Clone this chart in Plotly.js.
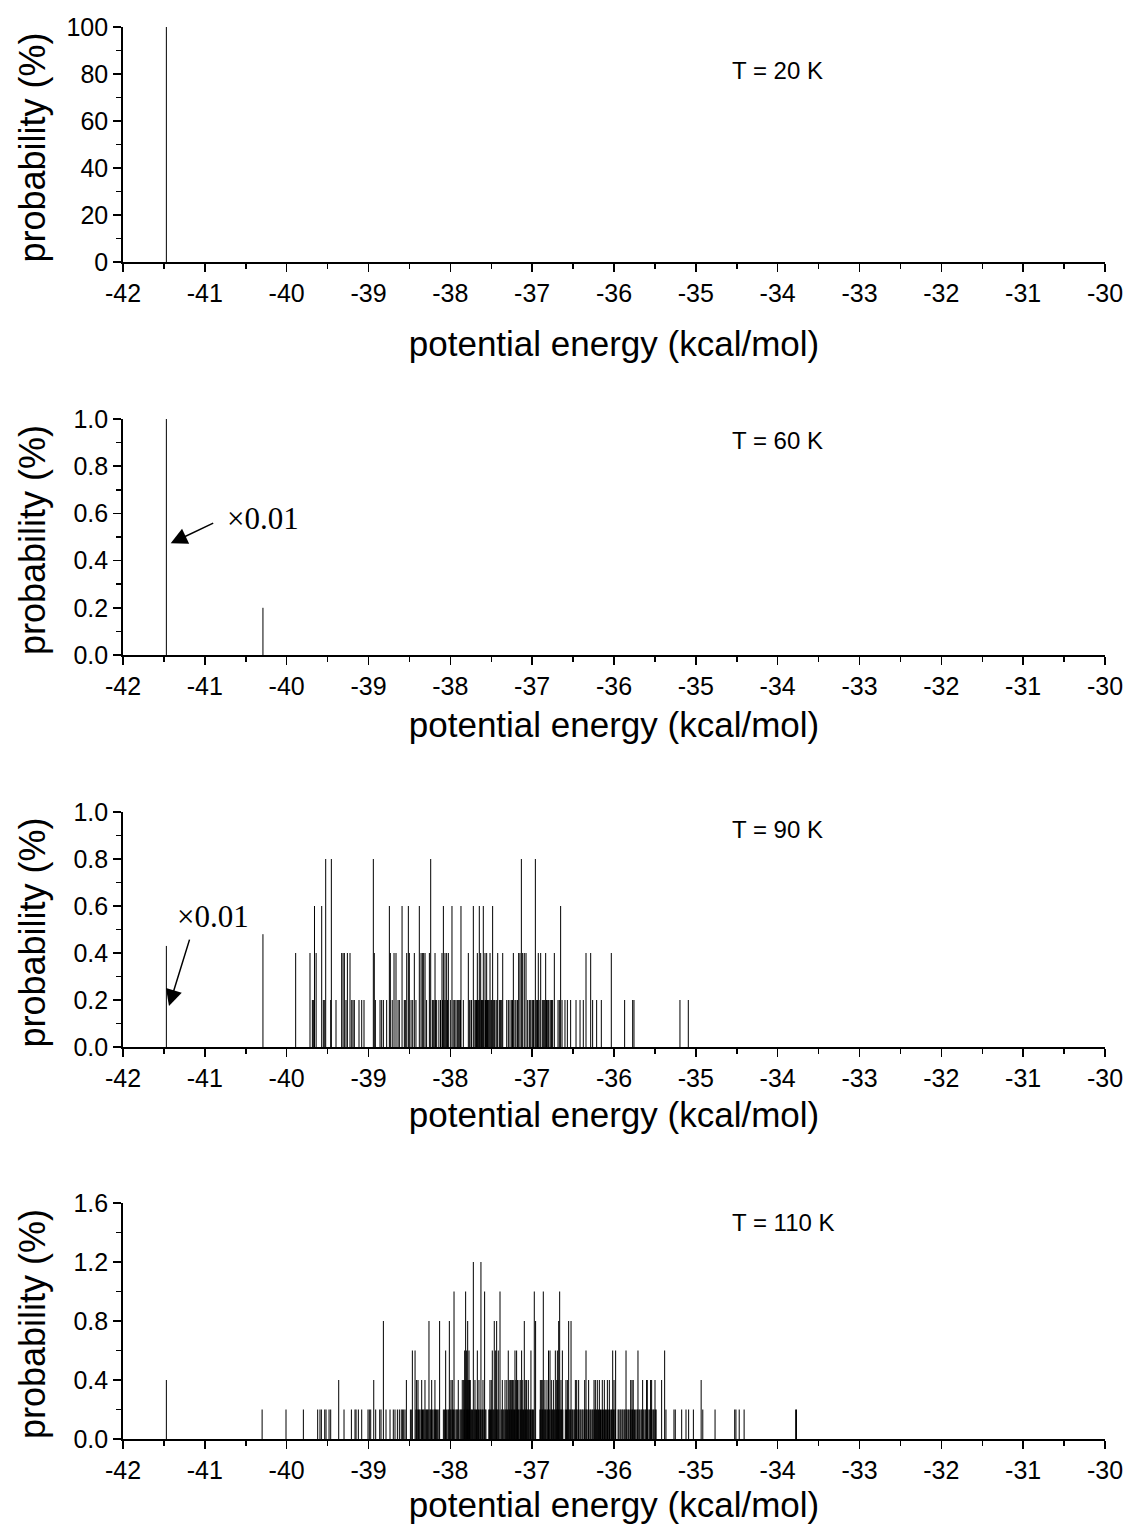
<!DOCTYPE html>
<html><head><meta charset="utf-8">
<script src="https://cdn.plot.ly/plotly-3.0.1.min.js"></script>
<style>html,body{margin:0;padding:0;background:#fff;}</style>
</head><body>
<div id="chart" style="width:1125px;height:1533px;"></div>
<script>
// ---------- data (energies in kcal/mol, probability in %) ----------
const energies20 = [-41.47];
const prob20 = [100];

const energies60 = [-41.47, -40.29];
const prob60 = [1.0, 0.2];

// T = 90 K : the two low-energy sticks are shown scaled by x0.01
const energies90Scaled = [-41.47, -40.29];
const prob90Scaled = [0.43, 0.48];
const e90_p02 = [-39.686, -39.674, -39.552, -39.535, -39.462, -39.397, -39.275, -39.205, -39.189, -39.173,
  -39.116, -39.083, -39.055, -38.916, -38.859, -38.839, -38.818, -38.778, -38.71, -38.639, -38.623, -38.562,
  -38.55, -38.48, -38.46, -38.42, -38.29, -38.22, -38.21, -38.199, -38.18, -38.167, -38.14, -38.12, -38.095,
  -38.075, -38.055, -38.035, -38.0, -37.965, -37.947, -37.931, -37.914, -37.898, -37.885, -37.875, -37.841,
  -37.764, -37.747, -37.74, -37.70, -37.69, -37.68, -37.664, -37.658, -37.64, -37.62, -37.613, -37.605,
  -37.59, -37.57, -37.56, -37.55, -37.545, -37.536, -37.525, -37.505, -37.495, -37.47, -37.462, -37.442,
  -37.43, -37.401, -37.39, -37.381, -37.37, -37.311, -37.291, -37.271, -37.25, -37.24, -37.21, -37.198,
  -37.18, -37.055, -37.035, -37.025, -37.014, -36.994, -36.985, -36.978, -36.945, -36.935, -36.915, -36.876,
  -36.865, -36.855, -36.845, -36.825, -36.81, -36.802, -36.782, -36.77, -36.762, -36.75, -36.684, -36.668,
  -36.635, -36.599, -36.57, -36.53, -36.464, -36.415, -36.375, -36.261, -36.212, -36.155, -35.87, -35.772,
  -35.756, -35.194, -35.092];
const e90_p04 = [-39.89, -39.715, -39.64, -39.328, -39.311, -39.295, -39.258, -39.226, -38.929, -38.733,
  -38.688, -38.664, -38.533, -38.501, -38.44, -38.358, -38.342, -38.326, -38.309, -38.256, -38.187, -38.102,
  -38.065, -38.045, -38.024, -37.78, -37.67, -37.629, -37.576, -37.556, -37.515, -37.421, -37.36, -37.23,
  -37.165, -37.149, -37.116, -37.096, -37.075, -36.925, -36.896, -36.835, -36.729, -36.342, -36.285, -36.033];
const e90_p06 = [-39.66, -39.572, -38.745, -38.59, -38.513, -38.379, -38.085, -37.98, -37.87, -37.719,
  -37.646, -37.597, -37.483, -36.652];
const e90_p08 = [-39.523, -39.454, -38.941, -38.24, -37.132, -36.961];

// T = 110 K
const e110_p02 = [-40.30, -40.008, -39.796, -39.621, -39.593, -39.576, -39.535, -39.519, -39.482, -39.462,
  -39.299, -39.209, -39.165, -39.152, -39.124, -39.083, -39.006, -38.99, -38.973, -38.912, -38.863, -38.847,
  -38.786, -38.737, -38.697, -38.676, -38.647, -38.623, -38.6, -38.586, -38.57, -38.554, -38.488, -38.472,
  -38.42, -38.405, -38.39, -38.38, -38.37, -38.355, -38.34, -38.33, -38.32, -38.30, -38.29, -38.28, -38.27,
  -38.25, -38.24, -38.23, -38.215, -38.20, -38.19, -38.18, -38.17, -38.155, -38.14,
  -38.085, -38.07, -38.06, -38.045, -38.03, -38.02, -38.005, -37.995, -37.98, -37.97, -37.96, -37.945, -37.93,
  -37.92, -37.91, -37.895, -37.88, -37.87, -37.86, -37.845, -37.83, -37.82, -37.80, -37.79, -37.78, -37.765,
  -37.75, -37.74, -37.73, -37.71, -37.70, -37.69, -37.68, -37.665, -37.655, -37.64, -37.63, -37.615, -37.605,
  -37.59, -37.575, -37.565, -37.53, -37.52, -37.51, -37.495, -37.48, -37.47, -37.455, -37.44, -37.43,
  -37.42, -37.405, -37.38, -37.37, -37.355, -37.345, -37.33, -37.32, -37.31, -37.30, -37.285, -37.275,
  -37.26, -37.25, -37.235, -37.225, -37.215, -37.20, -37.185, -37.175, -37.165, -37.15, -37.14, -37.125,
  -37.115, -37.105, -37.09, -37.08, -37.065, -37.055, -37.04, -37.03, -37.02, -37.005, -36.995, -36.985,
  -36.905, -36.895, -36.88, -36.87, -36.855, -36.845, -36.835, -36.82, -36.81, -36.795, -36.785, -36.77,
  -36.76, -36.75, -36.735, -36.725, -36.71, -36.70, -36.685, -36.675, -36.66, -36.65, -36.64, -36.625,
  -36.595, -36.58, -36.565, -36.55, -36.54, -36.53, -36.515, -36.505, -36.49, -36.48, -36.465, -36.455,
  -36.44, -36.43, -36.415, -36.405, -36.39, -36.38, -36.365, -36.355, -36.34, -36.33, -36.315, -36.305,
  -36.29, -36.28, -36.265, -36.255, -36.24, -36.23, -36.215, -36.205, -36.19, -36.18, -36.165, -36.155,
  -36.14, -36.13, -36.115, -36.105, -36.09, -36.08, -36.065, -36.055, -36.04, -36.03, -36.015, -36.005,
  -35.99, -35.98, -35.95, -35.94, -35.925, -35.915, -35.90, -35.89, -35.875, -35.865, -35.85, -35.84,
  -35.825, -35.815, -35.80, -35.79, -35.775, -35.765, -35.75, -35.735, -35.72, -35.71, -35.695, -35.685,
  -35.67, -35.66, -35.645, -35.635, -35.62, -35.61, -35.595, -35.585, -35.57, -35.56, -35.545, -35.535,
  -35.52, -35.51, -35.495, -35.485, -35.365, -35.267, -35.251, -35.173, -35.12, -35.088, -35.03, -34.915,
  -34.765, -34.525, -34.51, -34.47, -34.41, -33.78, -33.77];
const e110_p04 = [-41.47, -39.364, -38.936, -38.537, -38.412, -38.395, -38.35, -38.31, -38.228, -38.188,
  -37.992, -37.976, -37.903, -37.854, -37.837, -37.82, -37.795, -37.78, -37.765, -37.756, -37.699, -37.65,
  -37.601, -37.516, -37.5, -37.365, -37.332, -37.31, -37.28, -37.263, -37.25, -37.239, -37.225, -37.2, -37.18,
  -37.161, -37.14, -37.115, -37.085, -37.068, -37.047, -36.9, -36.884, -36.87, -36.844, -36.819, -36.766,
  -36.741, -36.7, -36.685, -36.648, -36.587, -36.57, -36.472, -36.456, -36.432, -36.358, -36.31, -36.244,
  -36.228, -36.204, -36.179, -36.143, -36.118, -36.081, -36.057, -36.0, -35.796, -35.78, -35.765, -35.65,
  -35.602, -35.593, -35.553, -35.54, -35.499, -35.418, -34.935];
const e110_p06 = [-38.464, -38.431, -38.057, -37.825, -37.801, -37.772, -37.67, -37.487, -37.446, -37.414,
  -37.292, -37.21, -37.19, -37.129, -37.015, -36.8, -36.782, -36.717, -36.692, -36.631, -36.342, -36.016,
  -35.98, -35.853, -35.707, -35.381];
const e110_p08 = [-38.818, -38.261, -38.131, -38.012, -37.788, -37.463, -37.434, -37.096, -36.958, -36.676,
  -36.554, -36.525];
const e110_p10 = [-37.955, -37.813, -37.581, -37.393, -36.974, -36.864, -36.664];
const e110_p12 = [-37.719, -37.626];

const xTickVals = [-42, -41, -40, -39, -38, -37, -36, -35, -34, -33, -32, -31, -30];
const xTickText = ['-42', '-41', '-40', '-39', '-38', '-37', '-36', '-35', '-34', '-33', '-32', '-31', '-30'];
const yTickVals1 = [0, 20, 40, 60, 80, 100];
const yTickText1 = ['0', '20', '40', '60', '80', '100'];
const yTickVals2 = [0, 0.2, 0.4, 0.6, 0.8, 1.0];
const yTickText2 = ['0.0', '0.2', '0.4', '0.6', '0.8', '1.0'];
const yTickVals4 = [0, 0.4, 0.8, 1.2, 1.6];
const yTickText4 = ['0.0', '0.4', '0.8', '1.2', '1.6'];
const panelLabels = ['T = 20 K', 'T = 60 K', 'T = 90 K', 'T = 110 K'];
const xTitle = 'potential energy (kcal/mol)';
const yTitle = 'probability (%)';

// ---------- build stick traces ----------
function addSticks(xs, ys, energies, probs) {
  for (let i = 0; i < energies.length; i++) {
    xs.push(energies[i], energies[i], null);
    ys.push(0, probs[i], null);
  }
}
function addLevel(xs, ys, energies, level) {
  for (const e of energies) { xs.push(e, e, null); ys.push(0, level, null); }
}
function stickTrace(xs, ys, k) {
  return {type: 'scatter', mode: 'lines', x: xs, y: ys, xaxis: 'x' + (k === 1 ? '' : k),
    yaxis: 'y' + (k === 1 ? '' : k), line: {color: '#000', width: 1}, hoverinfo: 'skip', connectgaps: false};
}
const t1x = [], t1y = []; addSticks(t1x, t1y, energies20, prob20);
const t2x = [], t2y = []; addSticks(t2x, t2y, energies60, prob60);
const t3x = [], t3y = [];
addSticks(t3x, t3y, energies90Scaled, prob90Scaled);
addLevel(t3x, t3y, e90_p02, 0.2); addLevel(t3x, t3y, e90_p04, 0.4);
addLevel(t3x, t3y, e90_p06, 0.6); addLevel(t3x, t3y, e90_p08, 0.8);
const t4x = [], t4y = [];
addLevel(t4x, t4y, e110_p02, 0.2); addLevel(t4x, t4y, e110_p04, 0.4);
addLevel(t4x, t4y, e110_p06, 0.6); addLevel(t4x, t4y, e110_p08, 0.8);
addLevel(t4x, t4y, e110_p10, 1.0); addLevel(t4x, t4y, e110_p12, 1.2);

const data = [stickTrace(t1x, t1y, 1), stickTrace(t2x, t2y, 2), stickTrace(t3x, t3y, 3), stickTrace(t4x, t4y, 4)];

// ---------- layout ----------
const FONT = 'Liberation Sans, Arial, sans-serif';
const W = 1125, H = 1533, ML = 123, MR = 20;
const px2x = p => (p - ML) / (W - ML - MR);
const py2y = p => 1 - p / H;

function xAxis(k, standoff) {
  return {domain: [0, 1], anchor: 'y' + (k === 1 ? '' : k), range: [-42, -30], tickmode: 'array',
    tickvals: xTickVals, ticktext: xTickText, ticks: 'outside', ticklen: 8, tickwidth: 1.5, tickcolor: '#000',
    showline: true, linewidth: 1.8, linecolor: '#000', showgrid: false, zeroline: false,
    minor: {tick0: -42, dtick: 0.5, ticks: 'outside', ticklen: 5, tickwidth: 1.5, tickcolor: '#000', showgrid: false},
    tickfont: {family: FONT, size: 25, color: '#000'},
    title: {text: xTitle, font: {family: FONT, size: 35, color: '#000'}, standoff: standoff},
    fixedrange: true};
}
function yAxis(k, top, bottom, rng, tv, tt, minorStep) {
  return {domain: [py2y(bottom), py2y(top)], anchor: 'x' + (k === 1 ? '' : k), range: rng, tickmode: 'array',
    tickvals: tv, ticktext: tt, ticks: 'outside', ticklen: 8, tickwidth: 1.5, tickcolor: '#000',
    showline: true, linewidth: 1.8, linecolor: '#000', showgrid: false, zeroline: false,
    minor: {tick0: 0, dtick: minorStep, ticks: 'outside', ticklen: 5, tickwidth: 1.5, tickcolor: '#000', showgrid: false},
    tickfont: {family: FONT, size: 25, color: '#000'},
    fixedrange: true};
}

// y-axis titles are placed as rotated annotations so their position matches exactly
const panelTops = [27, 419, 812, 1203];
const panelBottoms = [262, 655, 1047, 1439];
const annotations = panelTops.map((top, i) => ({xref: 'paper', yref: 'paper', x: px2x(32),
  y: py2y((top + panelBottoms[i]) / 2 + 3), xanchor: 'center', yanchor: 'middle', textangle: -90,
  text: yTitle, showarrow: false, font: {family: FONT, size: 36, color: '#000'}}));

const labelY = [70, 440, 829, 1222];
labelY.forEach((py, i) => annotations.push({xref: 'paper', yref: 'paper', x: px2x(730), y: py2y(py),
  xanchor: 'left', yanchor: 'middle', text: panelLabels[i], showarrow: false,
  font: {family: FONT, size: 24, color: '#000'}}));
const serif = {family: 'Liberation Serif, Times New Roman, serif', size: 31, color: '#000'};
annotations.push(
  {xref: 'paper', yref: 'paper', x: px2x(263), y: py2y(519), text: '\u00d70.01', showarrow: false, font: serif, xanchor: 'center', yanchor: 'middle'},
  {xref: 'x2', yref: 'y2', x: -41.417, y: 0.473, ax: 44, ay: -21, text: '', showarrow: true,
    arrowhead: 2, arrowsize: 2.2, arrowwidth: 1.5, arrowcolor: '#000'},
  {xref: 'paper', yref: 'paper', x: px2x(213), y: py2y(916), text: '\u00d70.01', showarrow: false, font: serif, xanchor: 'center', yanchor: 'middle'},
  {xref: 'x3', yref: 'y3', x: -41.438, y: 0.174, ax: 21, ay: -68, text: '', showarrow: true,
    arrowhead: 2, arrowsize: 2.2, arrowwidth: 1.5, arrowcolor: '#000'}
);

const layout = {
  width: W, height: H, margin: {l: ML, r: MR, t: 0, b: 0}, paper_bgcolor: '#fff', plot_bgcolor: '#fff',
  showlegend: false, font: {family: FONT, color: '#000'},
  xaxis: xAxis(1, 26), xaxis2: xAxis(2, 14), xaxis3: xAxis(3, 12), xaxis4: xAxis(4, 10),
  yaxis: yAxis(1, 27, 262, [0, 100], yTickVals1, yTickText1, 10),
  yaxis2: yAxis(2, 419, 655, [0, 1], yTickVals2, yTickText2, 0.1),
  yaxis3: yAxis(3, 812, 1047, [0, 1], yTickVals2, yTickText2, 0.1),
  yaxis4: yAxis(4, 1203, 1439, [0, 1.6], yTickVals4, yTickText4, 0.2),
  annotations: annotations
};

Plotly.newPlot('chart', data, layout, {staticPlot: true, displayModeBar: false});
</script>
</body></html>
